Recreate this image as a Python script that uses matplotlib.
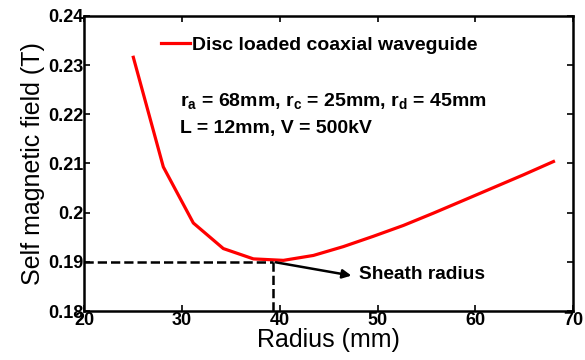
import matplotlib
matplotlib.use("Agg")
import matplotlib.pyplot as plt
import numpy as np

radius = [25.0, 28.07, 31.14, 34.21, 37.29, 40.36, 43.43, 46.5, 49.57, 52.64, 55.71, 58.79, 61.86, 64.93, 68.0]
field = [0.2316, 0.2093, 0.1979, 0.1927, 0.1906, 0.1903, 0.1913, 0.1931, 0.1952, 0.1974, 0.1999, 0.2025, 0.2051, 0.2077, 0.2104]
sheath_r = 39.3
sheath_b = 0.19
xticks = [20, 30, 40, 50, 60, 70]
yticks = [0.18, 0.19, 0.2, 0.21, 0.22, 0.23, 0.24]
ytick_labels = ["0.18", "0.19", "0.2", "0.21", "0.22", "0.23", "0.24"]

plt.rcParams['font.family'] = ['Liberation Sans', 'DejaVu Sans']
plt.rcParams['mathtext.fontset'] = 'custom'
plt.rcParams['mathtext.rm'] = 'Liberation Sans:bold'
plt.rcParams['mathtext.it'] = 'Liberation Sans:bold'
plt.rcParams['mathtext.bf'] = 'Liberation Sans:bold'
plt.rcParams['mathtext.default'] = 'regular'

fig = plt.figure(figsize=(5.85, 3.6), dpi=100)
ax = fig.add_axes([0.1444, 0.1361, 0.8351, 0.8195])

ax.plot(radius, field, color='#ff0000', lw=2.3, label='Disc loaded coaxial waveguide')
ax.plot([20, sheath_r], [sheath_b, sheath_b], 'k--', lw=1.8)
ax.plot([sheath_r, sheath_r], [0.18, sheath_b], 'k--', lw=1.8)
ax.annotate('', xy=(47.6, 0.1871), xytext=(sheath_r, sheath_b),
            arrowprops=dict(arrowstyle='-|>', color='k', lw=1.8, mutation_scale=13))
ax.text(48.1, 0.1874, 'Sheath radius', fontsize=13.8, fontweight='bold', va='center', ha='left')

ax.text(29.8, 0.2227, 'r$_a$ = 68mm, r$_c$ = 25mm, r$_d$ = 45mm', fontsize=14, fontweight='bold', va='center')
ax.text(29.8, 0.2172, 'L = 12mm, V = 500kV', fontsize=14, fontweight='bold', va='center')

leg = ax.legend(loc='upper left', bbox_to_anchor=(0.12, 0.99), frameon=False,
                prop={'size': 14, 'weight': 'bold'}, handlelength=1.5, handletextpad=0.12)

ax.set_xlim(20, 70)
ax.set_ylim(0.18, 0.24)
ax.set_xticks(xticks)
ax.set_yticks(yticks)
ax.set_yticklabels(ytick_labels)
ax.tick_params(direction='in', top=True, right=True, length=4, width=1.2, labelsize=13, pad=1)
for lab in ax.get_xticklabels() + ax.get_yticklabels():
    lab.set_fontweight('bold')
for s in ax.spines.values():
    s.set_linewidth(1.8)
ax.set_xlabel('Radius (mm)', fontsize=18, labelpad=-1)
ax.set_ylabel('Self magnetic field (T)', fontsize=18, labelpad=2)

fig.savefig('out.png', dpi=100)
